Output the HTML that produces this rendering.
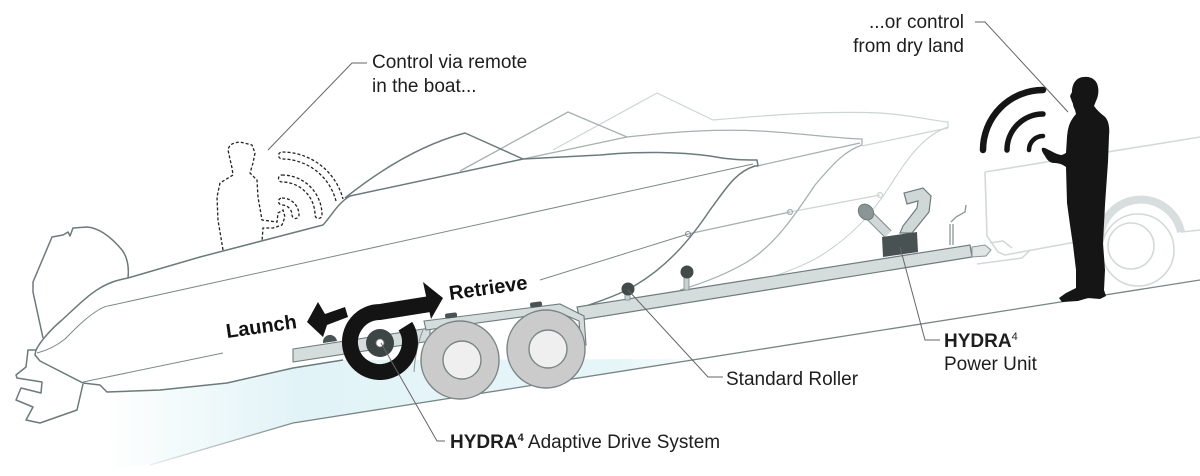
<!DOCTYPE html>
<html><head><meta charset="utf-8"><style>
html,body{margin:0;padding:0;background:#fff;}
svg{display:block;}
text{font-family:"Liberation Sans",Arial,sans-serif;}
</style></head><body>
<svg xmlns="http://www.w3.org/2000/svg" width="1200" height="476" viewBox="0 0 1200 476">
<defs>
<linearGradient id="w" gradientUnits="userSpaceOnUse" x1="100" y1="0" x2="710" y2="0">
<stop offset="0" stop-color="#ffffff"/>
<stop offset="0.12" stop-color="#f4fbfc"/>
<stop offset="0.32" stop-color="#e2f3f7"/>
<stop offset="0.85" stop-color="#e6f5f8"/>
<stop offset="1" stop-color="#ffffff"/>
</linearGradient>
<linearGradient id="rg" gradientUnits="userSpaceOnUse" x1="150" y1="0" x2="300" y2="0">
<stop offset="0" stop-color="#e8eded"/><stop offset="1" stop-color="#7a8787"/>
</linearGradient>
</defs>

<!-- water -->
<path d="M107,392 C130,391 150,390 160,390 L227,383 L293,368 L343,360 L700,359 L293,423 L157,463 L112,470 Z" fill="url(#w)"/>
<!-- ramp -->
<path d="M293,423 L1200,280" stroke="#788585" stroke-width="1.3" fill="none"/>
<path d="M150,465 L293,423" stroke="url(#rg)" stroke-width="1.3" fill="none"/>

<!-- car -->
<g fill="none" stroke="#d3d9d9" stroke-width="1.6">
<path d="M985,172 L1200,137"/>
<path d="M985,172 L987,236 L998,252 L1005,255 L1098,238"/>
<path d="M1181,232 L1200,230"/>
<circle cx="1138" cy="250" r="36"/>
<circle cx="1131" cy="246" r="23"/>
<path d="M977,264 L1022,258 L1030,250"/>
<path d="M990,243 L1003,241 L1012,248"/>
</g>
<path d="M1100,238 A41,41 0 0 1 1181,232" stroke="#d8dddd" stroke-width="8" fill="none"/>

<!-- light ghost boat -->
<g fill="none" stroke="#cdd4d4" stroke-width="1.2">
<path d="M553,150 L657,93 L713,120"/>
<path d="M713,120 C780,114 830,111 880,113 C910,115 930,120 948,122 L948,128"/>
<path d="M948,127 C925,135 910,155 895,178 C875,210 855,235 817,258 C795,270 760,282 717,294"/>
<path d="M862,146 L948,128"/>
<path d="M790,212 L880,195"/>
<circle cx="880" cy="195" r="2.5"/>
</g>
<!-- medium ghost boat -->
<g fill="none" stroke="#a5b0b0" stroke-width="1.3">
<path d="M460,171 L568,112 L627,137"/>
<path d="M523,159 L627,137 C680,131 720,129 760,131 C800,133 830,138 862,139 L862,145"/>
<path d="M862,145 C842,152 830,168 815,185 C795,215 775,245 747,262 C725,275 700,284 680,290"/>
<path d="M757,166 L860,143"/>
<path d="M688,234 L790,212"/>
<circle cx="790" cy="212" r="2.5"/>
</g>
<!-- dark boat -->
<g fill="none" stroke="#6b7a7a" stroke-width="1.5" stroke-linejoin="round">
<path d="M43,338 L33,292 L33,282 L52,237 L63,235 L68,232 L70,236 L73,228 L87,227 C100,228 112,238 122,250 C128,258 129,268 128,278"/>
<path d="M36,350 C40,342 50,330 62,320 C75,308 88,295 100,288 C110,282 118,280 128,278 L200,257 L323,225 C332,215 338,203 350,196 L523,159 L600,155 C640,151 680,152 710,156 C730,160 745,160 757,160 L758,166 L754,166"/>
<path d="M345,198 C380,170 420,145 465,133 L523,159"/>
<path d="M36,350 L35,355 L40,361 L83,383 L100,385 L107,392 L160,390 L227,383 L293,368 L343,360"/>
<path d="M36,350 L28,350 L26,367 L16,375 L17,378 L42,382 L41,393 L21,388 L16,400 L33,407 L26,420 L40,423 L77,410 L83,384"/>
<path d="M755,166 C735,172 725,190 710,210 C690,240 665,270 627,290 C610,298 595,303 583,307"/>
</g>
<g fill="none" stroke="#7c8989" stroke-width="1">
<path d="M37,353 C45,351 55,347 65,339 C75,329 85,318 100,309 C104,307 106,306 108,306 L753,164"/>
<path d="M83,382 L223,353"/>
<path d="M540,280 L688,234"/>
<circle cx="688" cy="234" r="2.5"/>
</g>

<!-- dashed person in boat -->
<g fill="none" stroke="#222" stroke-width="1.3" stroke-dasharray="3 2">
<path d="M223,250 L218,220 L217,197 L220,183 L233,175 L232,168 L228,150 C229,145 232,143 240,142 L252,145 L255,153 L253,163 L250,173 L257,180 L258,197 L262,220 L277,222 L278,213 L283,210 L285,217 L282,225 L273,228 L263,228 L262,241"/>
<path d="M282,198 A17,17 0 0 1 299,215 A3.5,3.5 0 0 1 292,215 A10,10 0 0 0 282,205 A3.5,3.5 0 0 1 282,198 Z"/>
<path d="M282,175 A40,40 0 0 1 322,215 A3.5,3.5 0 0 1 315,215 A33,33 0 0 0 282,182 A3.5,3.5 0 0 1 282,175 Z"/>
<path d="M336,201 A56,56 0 0 0 282,159 A3.5,3.5 0 0 1 282,152 A63,63 0 0 1 343,199"/>
</g>

<!-- trailer main beam -->
<path d="M577,307 L970,245 L972,257 L580,320 Z" fill="#d4dcdc" stroke="#6f7c7c" stroke-width="1.2"/>
<path d="M972,247 L985,245 L991,250 L986,256 L972,257 Z" fill="#dfe5e5" stroke="#8a9696" stroke-width="1"/>
<!-- rollers -->
<rect x="625" y="292" width="5" height="8" fill="#c9d1d1" stroke="#7d8a8a" stroke-width="0.8"/>
<circle cx="628" cy="289" r="6.5" fill="#424a4a"/>
<rect x="684" y="276" width="5" height="14" fill="#c9d1d1" stroke="#7d8a8a" stroke-width="0.8"/>
<circle cx="687" cy="272" r="6.5" fill="#424a4a"/>

<!-- power unit -->
<path d="M888,234 L867,213" stroke="#7d8a8a" stroke-width="10" stroke-linecap="butt"/>
<path d="M888,234 L867,213" stroke="#cfd7d7" stroke-width="8"/>
<ellipse cx="866" cy="212" rx="7" ry="8.5" transform="rotate(-40 866 212)" fill="#8a9595" stroke="#6f7c7c"/>
<path d="M900,233 L912,233 L929,212 L931,196 L923,188 L904,193 L907,204 L918,201 L917,208 L903,226 Z" fill="#cfd7d7" stroke="#6f7c7c" stroke-width="1.2"/>
<path d="M882,237 L917,232 L918,252 L883,257 Z" fill="#485252"/>
<g stroke="#8a9696" stroke-width="1.3" fill="none">
<path d="M950,245 L950,224"/><path d="M953,245 L953,224"/>
<path d="M951,222 L956,217 L965,212 L966,205"/>
</g>

<!-- left rail & rail through drive -->
<path d="M293,349 L430,328 L430,341 L293,362 Z" fill="#d4dcdc" stroke="#6f7c7c" stroke-width="1.1"/>
<path d="M323,343 A7,7 0 0 1 337,341 Z" fill="#4a5353"/>
<!-- fender -->
<path d="M424,321 L560,304 L584,316 L586,345 L581,345 L579,321 L558,312 L426,330 Z" fill="#d4dcdc" stroke="#6f7c7c" stroke-width="1.1"/>
<rect x="445" y="313" width="12" height="5" rx="2" fill="#4a5353" transform="rotate(-7 451 315)"/>
<rect x="530" y="302" width="12" height="5" rx="2" fill="#4a5353" transform="rotate(-7 536 304)"/>
<path d="M423,330 C418,342 415,356 414,372" stroke="#8a9696" fill="none"/>
<!-- wheels -->
<circle cx="460" cy="360" r="39" fill="#cbcbcb" stroke="#7a8585" stroke-width="1.4"/>
<circle cx="462" cy="360" r="19" fill="#efefef" stroke="#7a8585" stroke-width="1.4"/>
<circle cx="546" cy="349" r="39" fill="#cbcbcb" stroke="#7a8585" stroke-width="1.4"/>
<circle cx="548" cy="349" r="19" fill="#efefef" stroke="#7a8585" stroke-width="1.4"/>

<!-- drive system -->
<circle cx="380" cy="343" r="14" fill="#3d4545"/>
<circle cx="380" cy="343" r="4" fill="#fff" stroke="#777" stroke-width="0.8"/>
<path d="M405.4,326.1 A30,30 0 1 1 380,312 L430,304" fill="none" stroke="#141414" stroke-width="16" stroke-linejoin="round"/>
<polygon points="423,282 443,298 431,319" fill="#141414"/>
<polygon points="307,322 318,302 325,314 345,307 348,317 327,325 323,337" fill="#141414"/>

<!-- man -->
<path d="M1084,77 C1091,76 1097,80 1098,87 C1099,92 1098,97 1096,101 L1094,106 C1097,110 1100,113 1104,116 C1108,119 1110,126 1109,136 L1108,162 C1107,176 1106,190 1105,205 L1103,243 L1105,270 L1104,290 L1106,296 L1100,299 L1088,298 L1078,301 L1062,302 L1059,298 L1066,293 L1076,288 L1076,270 L1073,245 L1070,225 L1067,203 L1066,167 C1062,164 1058,163 1054,163 C1050,163 1047,160 1045,156 C1043,153 1041,150 1042,148 C1044,147 1047,149 1049,150 C1053,152 1058,155 1062,155 L1066,153 L1067,137 C1068,126 1070,121 1076,114 L1075,110 C1074,108 1073,106 1073,104 L1071,99 L1070,96 L1072,92 C1072,83 1077,77 1084,77 Z" fill="#151515"/>
<!-- wifi -->
<g fill="none" stroke="#151515" stroke-linecap="round">
<path d="M983,150 A60,60 0 0 1 1043,90" stroke-width="6.5"/>
<path d="M1007,150 A36,36 0 0 1 1043,114" stroke-width="5.5"/>
<path d="M1029,150 A14,14 0 0 1 1043,136" stroke-width="4.5"/>
</g>

<!-- leaders -->
<g fill="none" stroke="#666" stroke-width="1">
<path d="M367,63 L352,63 L268,150"/>
<path d="M975,22 L985,22 L1068,112"/>
<path d="M381,343 L437,441 L445,441"/>
<path d="M628,290 L708,377 L723,377"/>
<path d="M900,247 L925,340 L940,340"/>
</g>

<!-- text -->
<g fill="#1e1e1e" font-size="19">
<text x="372" y="68">Control via remote</text>
<text x="372" y="92">in the boat...</text>
<text x="964" y="28" text-anchor="end">...or control</text>
<text x="964" y="52" text-anchor="end">from dry land</text>
<text x="726" y="385">Standard Roller</text>
<text x="450" y="448"><tspan font-weight="bold">HYDRA</tspan><tspan font-weight="bold" font-size="11" dy="-7">4</tspan><tspan dy="7"> Adaptive Drive System</tspan></text>
<text x="944" y="347"><tspan font-weight="bold">HYDRA</tspan><tspan font-size="11" dy="-7">4</tspan></text>
<text x="944" y="370">Power Unit</text>
</g>
<g fill="#111" font-size="20" font-weight="bold">
<text x="227" y="338" transform="rotate(-8 227 338)">Launch</text>
<text x="450" y="300" transform="rotate(-8 450 300)">Retrieve</text>
</g>
</svg>
</body></html>
